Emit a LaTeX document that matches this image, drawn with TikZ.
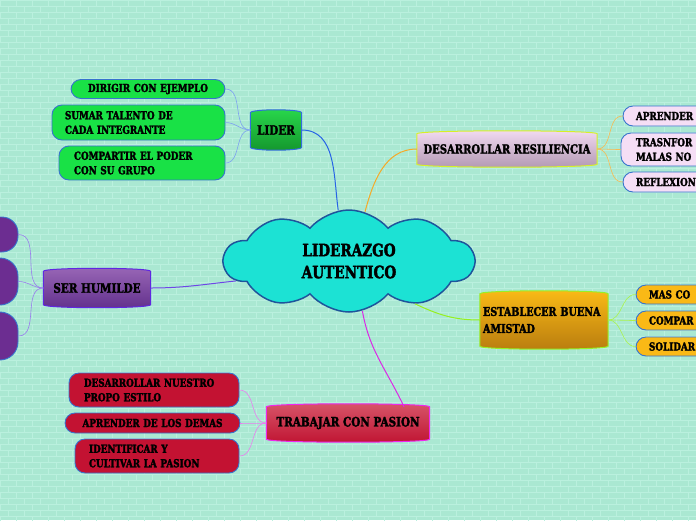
\documentclass[tikz,border=0pt]{standalone}
\usepackage{fontspec}
\newfontfamily\mapfont{DejaVu Serif}[FakeStretch=0.8,BoldFeatures={FakeBold=2.2}]
\usetikzlibrary{shapes.symbols}

\pgfdeclarelayer{bricks}
\pgfdeclarelayer{back}
\pgfsetlayers{bricks,back,main}

\definecolor{mint}{RGB}{170,232,210}
\definecolor{mortar}{RGB}{186,240,222}
\definecolor{cloudfill}{RGB}{28,226,212}
\definecolor{cloudedge}{RGB}{30,85,155}
% topic colours
\definecolor{lidtop}{RGB}{40,215,75}
\definecolor{lidbot}{RGB}{20,150,45}
\definecolor{lidedge}{RGB}{50,110,220}
\definecolor{restop}{RGB}{242,218,242}
\definecolor{resbot}{RGB}{178,152,178}
\definecolor{resedge}{RGB}{215,240,40}
\definecolor{humtop}{RGB}{152,102,182}
\definecolor{humbot}{RGB}{98,48,140}
\definecolor{humedge}{RGB}{95,40,225}
\definecolor{amitop}{RGB}{250,186,22}
\definecolor{amibot}{RGB}{185,125,15}
\definecolor{amiedge}{RGB}{150,240,40}
\definecolor{pastop}{RGB}{215,85,105}
\definecolor{pasbot}{RGB}{192,20,50}
\definecolor{pasedge}{RGB}{238,40,238}
% leaf colours
\definecolor{leafgreen}{RGB}{25,225,70}
\definecolor{leafpink}{RGB}{245,222,245}
\definecolor{leafpurple}{RGB}{108,45,145}
\definecolor{leaforange}{RGB}{250,185,22}
\definecolor{leafred}{RGB}{195,18,50}
\definecolor{leafedge}{RGB}{55,115,205}
% connector colours
\definecolor{linkblue}{RGB}{40,100,230}
\definecolor{linkorange}{RGB}{245,170,40}
\definecolor{linkpurple}{RGB}{110,70,230}
\definecolor{linkgreen}{RGB}{150,240,30}
\definecolor{linkmagenta}{RGB}{220,40,230}

\begin{document}
\begin{tikzpicture}[x=1pt,y=-1pt,
  every node/.style={font=\mapfont\bfseries\fontsize{11}{14.5}\selectfont},
  topic/.style={font=\mapfont\bfseries\fontsize{13}{15}\selectfont,inner sep=0pt,align=left},
  leaf/.style={draw=leafedge,line width=0.9pt,rounded corners=10pt,inner xsep=13pt,inner ysep=2pt,align=left},
  link/.style={line width=1pt},
  twig/.style={line width=0.6pt}]
  \useasboundingbox (0,0) rectangle (696,520);
  \clip (0,0) rectangle (696,520);

  % Brick wall
  \begin{pgfonlayer}{bricks}
    \fill[mint] (0,0) rectangle (696,520);
    \foreach \r [evaluate=\r as \ph using {8*mod(\r,2)}] in {0,...,86} {
      \draw[mortar,line width=0.6pt] (0,\r*6) -- (696,\r*6);
      \draw[mortar,line width=6pt,dash pattern=on 0.7pt off 15.3pt,dash phase=\ph] (0,\r*6+3) -- (696,\r*6+3);
    }
  \end{pgfonlayer}

  % Central idea
  \node[cloud,cloud puffs=10,cloud puff arc=100,cloud ignores aspect,
        minimum width=250,minimum height=102,draw=cloudedge,fill=cloudfill,line width=1.5pt,
        align=center,font=\mapfont\bfseries\fontsize{17}{22}\selectfont] (main) at (349,261)
        {LIDERAZGO\\ AUTENTICO};

  % Main topics
  \node[topic,minimum width=51,minimum height=34,align=center] (lider) at (276,130) {LIDER};
  \node[topic,minimum width=180,minimum height=30,align=center,font=\mapfont\bfseries\fontsize{12.5}{15}\selectfont] (resil) at (507,149) {DESARROLLAR RESILIENCIA};
  \node[topic,minimum width=107,minimum height=33,align=center] (humil) at (97,288) {SER HUMILDE};
  \node[topic,minimum width=128,minimum height=52,text width=122,font=\mapfont\bfseries\fontsize{12}{17}\selectfont] (amist) at (544,320)
        {ESTABLECER BUENA\\ AMISTAD};
  \node[topic,minimum width=163,minimum height=32,align=center] (pasion) at (348,423) {TRABAJAR CON PASION};

  % Topic bodies
  \begin{pgfonlayer}{back}
    \foreach \n/\tc/\bc/\ec in {lider/lidtop/lidbot/lidedge,resil/restop/resbot/resedge,
        humil/humtop/humbot/humedge,amist/amitop/amibot/amiedge,pasion/pastop/pasbot/pasedge}
      \draw[line width=1pt,draw=\ec,top color=\tc,bottom color=\bc]
        (\n.north west) .. controls ([yshift=4pt]\n.north west) and ([yshift=4pt]\n.north east) .. (\n.north east)
        -- (\n.south east) .. controls ([yshift=-4pt]\n.south east) and ([yshift=-4pt]\n.south west) .. (\n.south west)
        -- cycle;
  \end{pgfonlayer}

  % Leaves of LIDER
  \node[leaf,fill=leafgreen,text width=128,align=center,minimum height=19] (g1) at (148,89) {DIRIGIR CON EJEMPLO};
  \node[leaf,fill=leafgreen,text width=147,minimum height=35] (g2) at (138.5,122.5) {SUMAR TALENTO DE\\ CADA INTEGRANTE};
  \node[leaf,fill=leafgreen,text width=136,inner xsep=15pt,minimum height=34] (g3) at (142,163) {COMPARTIR EL PODER\\ CON SU GRUPO};

  % Leaves of DESARROLLAR RESILIENCIA
  \node[leaf,fill=leafpink,text width=94,minimum height=20] (k1) at (683,116) {APRENDER};
  \node[leaf,fill=leafpink,text width=94,inner xsep=15pt,minimum height=33] (k2) at (683,149.5) {TRASNFOR\\ MALAS NO};
  \node[leaf,fill=leafpink,text width=94,minimum height=20] (k3) at (683,182) {REFLEXION};

  % Leaves of SER HUMILDE
  \node[leaf,fill=leafpurple,rounded corners=16pt,minimum width=58,minimum height=35] (p1) at (-11,234.5) {};
  \node[leaf,fill=leafpurple,rounded corners=18pt,minimum width=58,minimum height=47] (p2) at (-11,281.5) {};
  \node[leaf,fill=leafpurple,rounded corners=18pt,minimum width=58,minimum height=48] (p3) at (-11,336) {};

  % Leaves of ESTABLECER BUENA AMISTAD
  \node[leaf,fill=leaforange,text width=94,minimum height=19] (o1) at (696,294.5) {MAS CO};
  \node[leaf,fill=leaforange,text width=94,minimum height=19] (o2) at (696,320.5) {COMPAR};
  \node[leaf,fill=leaforange,text width=94,minimum height=19] (o3) at (696,346.5) {SOLIDAR};

  % Leaves of TRABAJAR CON PASION
  \node[leaf,fill=leafred,text width=140,inner xsep=15pt,minimum height=34] (r1) at (154,390) {DESARROLLAR NUESTRO\\ PROPO ESTILO};
  \node[leaf,fill=leafred,text width=149,align=center,minimum height=20] (r2) at (152.5,423) {APRENDER DE LOS DEMAS};
  \node[leaf,fill=leafred,text width=136,inner xsep=14pt,minimum height=34] (r3) at (157,456) {IDENTIFICAR Y\\ CULTIVAR LA PASION};

  % Main branches
  \draw[link,linkblue] (main.102) to[out=98,in=0] (lider.east);
  \draw[link,linkorange] (main.72) to[out=75,in=180] (resil.west);
  \draw[link,linkpurple] (main.190) to[out=186,in=0] (humil.east);
  \draw[link,linkgreen] (main.-33) to[out=-25,in=180] (amist.west);
  \draw[link,linkmagenta] (main.-75) to[out=-80,in=115] (pasion.north -| 404,0);

  % Leaf branches
  \foreach \l in {g1,g2,g3} \draw[twig,linkblue!60] (lider.west) to[out=180,in=0] (\l.east);
  \foreach \l in {k1,k2,k3} \draw[twig,linkorange!80] (resil.east) to[out=0,in=180] (\l.west);
  \foreach \l in {p1,p2,p3} \draw[twig,linkpurple!70] (humil.west) to[out=180,in=0] (\l.east);
  \foreach \l in {o1,o2,o3} \draw[twig,linkgreen!80] (amist.east) to[out=0,in=180] (\l.west);
  \foreach \l in {r1,r2,r3} \draw[twig,linkmagenta!60] (pasion.west) to[out=180,in=0] (\l.east);
\end{tikzpicture}
\end{document}
